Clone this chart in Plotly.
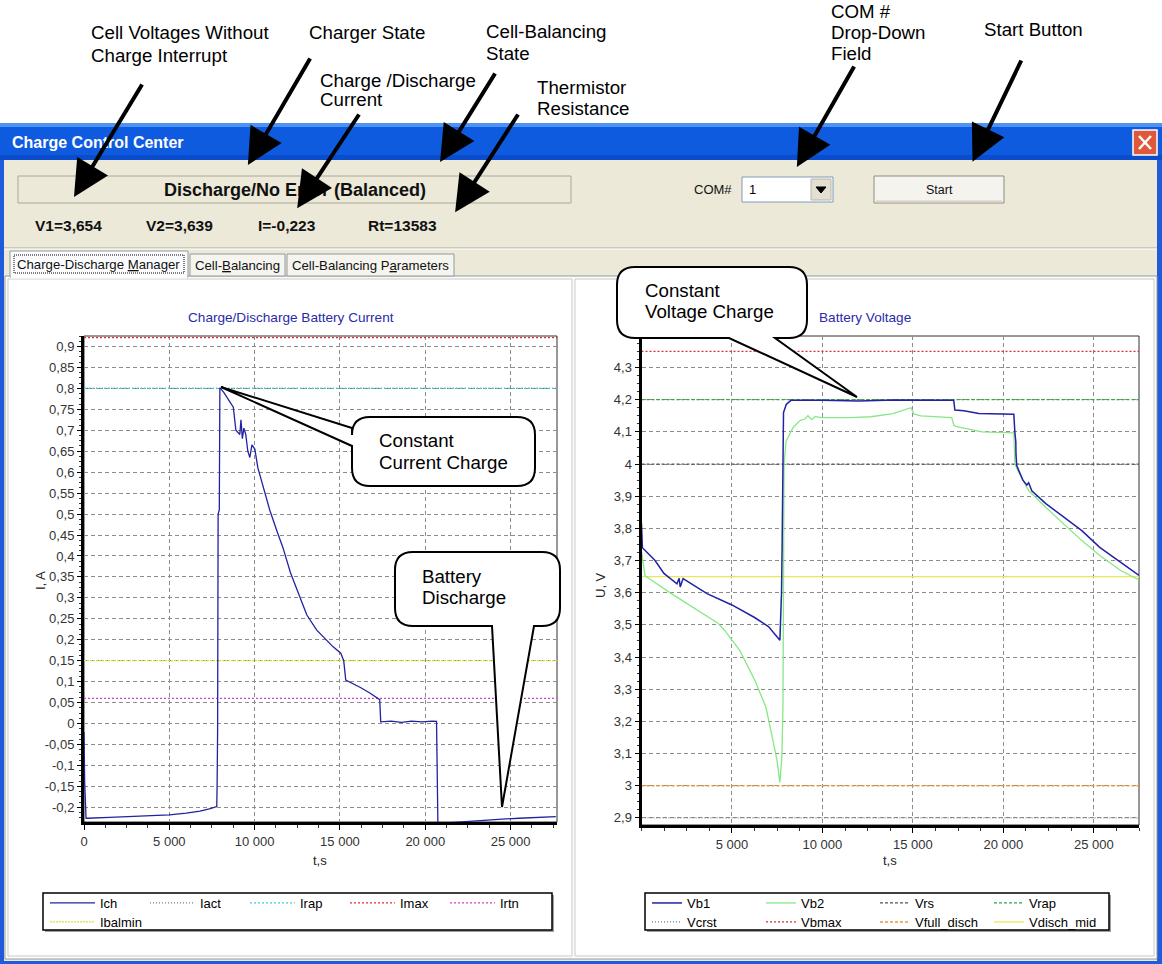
import plotly.graph_objects as go

W, H = 1162, 964
FONT = "Liberation Sans, Arial, sans-serif"

# ---------------- data ----------------
ICH_T = [0, 40, 120, 200, 1500, 3000, 5000, 6000, 6800, 7400, 7780, 7800, 7830, 7860, 7930, 7963,
         8000, 8200, 8400, 8700, 8750, 8900, 9000, 9130, 9200, 9280, 9370, 9480, 9600, 9720, 9840,
         10010, 10190, 10600, 10890, 11300, 11650, 12100, 12650, 13060, 13640, 14170, 14600, 15050,
         15220, 15340, 15700, 16200, 16750, 17210, 17330, 17390, 18000, 18600, 19200, 19800, 20400,
         20660, 20690, 20740, 21000, 22000, 23250, 24500, 25500, 26500, 27650]
ICH_A = [-0.02, -0.14, -0.226, -0.226, -0.224, -0.222, -0.218, -0.214, -0.209, -0.203, -0.198, -0.15,
         -0.02, 0.50, 0.51, 0.80, 0.80, 0.79, 0.777, 0.76, 0.755, 0.70, 0.695, 0.69, 0.725, 0.68,
         0.705, 0.69, 0.65, 0.635, 0.665, 0.655, 0.61, 0.55, 0.509, 0.46, 0.421, 0.36, 0.303, 0.259,
         0.223, 0.20, 0.183, 0.168, 0.15, 0.104, 0.097, 0.086, 0.073, 0.06, 0.057, 0.004, 0.006,
         0.003, 0.006, 0.004, 0.006, 0.005, -0.12, -0.238, -0.238, -0.235, -0.230, -0.228, -0.226,
         -0.224, -0.222]

VB1_T = [0, 50, 750, 1240, 1960, 2080, 2140, 2300, 3620, 5000, 6250, 7020, 7650, 7700, 7740, 7770,
         7800, 7850, 8000, 8260, 10000, 12000, 14000, 16000, 17260, 17320, 17820, 18650, 20580,
         20640, 20690, 20700, 20740, 21080, 21300, 21400, 21575, 22350, 23340, 24340, 25330, 26330,
         27500]
VB1_V = [3.815, 3.74, 3.70, 3.66, 3.628, 3.645, 3.618, 3.644, 3.597, 3.562, 3.523, 3.495, 3.452,
         3.51, 3.60, 3.73, 3.95, 4.16, 4.185, 4.198, 4.198, 4.196, 4.199, 4.197, 4.198, 4.168, 4.166,
         4.157, 4.155, 4.097, 4.07, 4.03, 3.995, 3.95, 3.935, 3.942, 3.917, 3.877, 3.834, 3.793,
         3.741, 3.70, 3.654]

VB2_T = [0, 190, 1630, 2845, 3560, 4230, 4610, 5440, 6270, 6880, 7265, 7490, 7650, 7760, 7820, 7860,
         7880, 7990, 8370, 8760, 9030, 9200, 9400, 9600, 9920, 11520, 12680, 13900, 14890, 15060,
         15440, 17150, 17270, 17430, 18810, 20580, 20640, 20800, 21410, 22350, 23340, 24340, 25330,
         26490, 27500]
VB2_V = [3.73, 3.653, 3.598, 3.554, 3.53, 3.505, 3.482, 3.42, 3.327, 3.244, 3.141, 3.079, 3.01, 3.09,
         3.25, 3.58, 4.0, 4.07, 4.113, 4.135, 4.14, 4.15, 4.138, 4.148, 4.144, 4.144, 4.147, 4.157,
         4.175, 4.156, 4.15, 4.144, 4.12, 4.116, 4.10, 4.097, 4.0, 3.98, 3.917, 3.865, 3.814, 3.762,
         3.716, 3.669, 3.64]

I_REF_NAMES = ["Iact", "Irap", "Imax", "Irtn", "Ibalmin"]
I_REF_VALUES = [0.8, 0.8, 0.921, 0.06, 0.15]
U_REF_NAMES = ["Vrs", "Vrap", "Vcrst", "Vbmax", "Vfull_disch", "Vdisch_mid"]
U_REF_VALUES = [4.0, 4.2, 2.9, 4.35, 3.0, 3.65]

T_RANGE_I = [0, 27720]
T_RANGE_U = [0, 27500]
I_RANGE = [-0.235, 0.925]
U_RANGE = [2.878, 4.398]

I_TICK_VALS = [-0.2, -0.15, -0.1, -0.05, 0, 0.05, 0.1, 0.15, 0.2, 0.25, 0.3, 0.35, 0.4, 0.45, 0.5,
               0.55, 0.6, 0.65, 0.7, 0.75, 0.8, 0.85, 0.9]
I_TICK_TEXT = ["-0,2", "-0,15", "-0,1", "-0,05", "0", "0,05", "0,1", "0,15", "0,2", "0,25", "0,3",
               "0,35", "0,4", "0,45", "0,5", "0,55", "0,6", "0,65", "0,7", "0,75", "0,8", "0,85", "0,9"]
U_TICK_VALS = [2.9, 3.0, 3.1, 3.2, 3.3, 3.4, 3.5, 3.6, 3.7, 3.8, 3.9, 4.0, 4.1, 4.2, 4.3]
U_TICK_TEXT = ["2,9", "3", "3,1", "3,2", "3,3", "3,4", "3,5", "3,6", "3,7", "3,8", "3,9", "4", "4,1",
               "4,2", "4,3"]
T_TICK_VALS_I = [0, 5000, 10000, 15000, 20000, 25000]
T_TICK_TEXT_I = ["0", "5 000", "10 000", "15 000", "20 000", "25 000"]
T_TICK_VALS_U = [5000, 10000, 15000, 20000, 25000]
T_TICK_TEXT_U = ["5 000", "10 000", "15 000", "20 000", "25 000"]

STATUS_TEXT = "Discharge/No Error (Balanced)"
READOUTS = ["V1=3,654", "V2=3,639", "I=-0,223", "Rt=13583"]
COM_PORT = "1"

# ---------------- styles ----------------
NAVY = "#2222A2"
STYLE = {
    "Ich": dict(color=NAVY, w=1.3, dash="solid", legend="legend", rank=1),
    "Iact": dict(color="#5E8C6A", w=1.2, dash="1px,2px", legend="legend", rank=2),
    "Irap": dict(color="#40CCE0", w=1.3, dash="2px,2px", legend="legend", rank=3),
    "Imax": dict(color="#D83030", w=1.3, dash="2px,2px", legend="legend", rank=4),
    "Irtn": dict(color="#D040D0", w=1.3, dash="2px,2px", legend="legend", rank=5),
    "Ibalmin": dict(color="#DCDC40", w=1.3, dash="2px,1px", legend="legend2", rank=6),
    "Vb1": dict(color=NAVY, w=1.5, dash="solid", legend="legend3", rank=1),
    "Vb2": dict(color="#86E886", w=1.3, dash="solid", legend="legend3", rank=2),
    "Vrs": dict(color="#4E5A44", w=1.3, dash="3px,2px", legend="legend3", rank=3),
    "Vrap": dict(color="#36A836", w=1.3, dash="3px,2px", legend="legend3", rank=4),
    "Vcrst": dict(color="#6F7F7F", w=1.2, dash="1px,2px", legend="legend4", rank=5),
    "Vbmax": dict(color="#D83030", w=1.3, dash="2px,2px", legend="legend4", rank=6),
    "Vfull_disch": dict(color="#E39A3B", w=1.4, dash="3px,2px", legend="legend4", rank=7),
    "Vdisch_mid": dict(color="#E8E85A", w=1.3, dash="solid", legend="legend4", rank=8),
}


def X(px):
    return px / W


def Y(py):
    return 1 - py / H


fig = go.Figure()


def add_line(name, xs, ys, xa, ya):
    st = STYLE[name]
    fig.add_trace(go.Scatter(x=xs, y=ys, mode="lines", name=name, xaxis=xa, yaxis=ya,
                             line=dict(color=st["color"], width=st["w"], dash=st["dash"]),
                             legend=st["legend"], legendrank=st["rank"], hoverinfo="skip"))


for nm, val in zip(I_REF_NAMES, I_REF_VALUES):
    add_line(nm, T_RANGE_I, [val, val], "x", "y")
add_line("Ich", ICH_T, ICH_A, "x", "y")

for nm, val in zip(U_REF_NAMES, U_REF_VALUES):
    add_line(nm, T_RANGE_U, [val, val], "x2", "y2")
add_line("Vb2", VB2_T, VB2_V, "x2", "y2")
add_line("Vb1", VB1_T, VB1_V, "x2", "y2")

# ---------------- axes ----------------
TICKFONT = dict(size=13, family=FONT, color="#333333")


def xaxis(dom, rng, tv, tt):
    return dict(domain=dom, range=rng, tickmode="array", tickvals=tv, ticktext=tt,
                showgrid=True, gridcolor="#8C8C8C", gridwidth=1, griddash="4px,3px",
                showline=True, linecolor="black", linewidth=3, ticks="outside", ticklen=5,
                tickcolor="black", tickfont=TICKFONT, zeroline=False, automargin=False,
                fixedrange=True,
                minor=dict(tickmode="linear", tick0=0, dtick=1250, ticks="outside", ticklen=3,
                           tickcolor="#333333", showgrid=False))


def yaxis(dom, rng, tv, tt, mdt):
    return dict(domain=dom, range=rng, tickmode="array", tickvals=tv, ticktext=tt,
                showgrid=True, gridcolor="#8C8C8C", gridwidth=1, griddash="4px,3px",
                showline=True, linecolor="black", linewidth=3, ticks="outside", ticklen=4,
                tickcolor="black", tickfont=TICKFONT, zeroline=False, automargin=False,
                fixedrange=True,
                minor=dict(tickmode="linear", tick0=0, dtick=mdt, ticks="outside", ticklen=2,
                           tickcolor="#333333", showgrid=False))


LPLOT = (84, 336, 557, 822)
RPLOT = (641.5, 336, 1139, 825)

# ---------------- decoration shapes ----------------
shapes = []


def rect(x0, y0, x1, y1, fill=None, line=None, lw=1, layer="below", dash=None):
    d = dict(type="rect", xref="paper", yref="paper", x0=X(x0), x1=X(x1), y0=Y(y0), y1=Y(y1),
             layer=layer, line=dict(width=lw if line else 0, color=line or "rgba(0,0,0,0)"))
    if dash:
        d["line"]["dash"] = dash
    d["fillcolor"] = fill if fill else "rgba(0,0,0,0)"
    shapes.append(d)


def seg(x0, y0, x1, y1, color, lw=1, layer="below"):
    shapes.append(dict(type="line", xref="paper", yref="paper", x0=X(x0), x1=X(x1), y0=Y(y0),
                       y1=Y(y1), layer=layer, line=dict(color=color, width=lw)))


def P(x, y):
    return "%.5f,%.5f" % (X(x), Y(y))


def path(d, fill, line, lw, layer="above"):
    shapes.append(dict(type="path", xref="paper", yref="paper", path=d, fillcolor=fill,
                       layer=layer, line=dict(color=line, width=lw)))


# window frame and title bar
rect(0, 123, 1162, 964, fill="#1F5BDB")
rect(0, 123, 1162, 127, fill="#4C93F5")
rect(0, 127, 1162, 155, fill="#0F5BDF")
rect(0, 155, 1162, 160, fill="#0A4CCB")
rect(4, 160, 1157, 961, fill="#ECE9D8")
seg(4, 248, 1157, 248, "#ACA899")
seg(4, 249, 1157, 249, "#FFFFFF")
# status box
rect(18, 176, 571, 203, line="#ACA899")
# COM drop-down
rect(742, 177, 833, 202, fill="#FFFFFF", line="#7F9DB9")
rect(811, 179, 831, 200, fill="#E3E0D2", line="#B9B6A8")
path("M" + P(816, 187) + " L" + P(826, 187) + " L" + P(821, 193) + " Z", "#000000", "#000000", 1,
     layer="below")
# start button
rect(874, 176, 1004, 203, fill="#F4F3EE", line="#8D8C84")
seg(876, 201.5, 1002, 201.5, "#D6D0C5", 2)
# tab page
rect(5, 276, 1157, 959, fill="#FCFCFE", line="#919B9C")
rect(8, 279, 572, 956, fill="#FFFFFF", line="#C9C9C2")
rect(575, 279, 1154, 956, fill="#FFFFFF", line="#C9C9C2")
rect(190, 254, 285, 276, fill="#F5F4EF", line="#919B9C")
rect(287, 254, 454, 276, fill="#F5F4EF", line="#919B9C")
rect(10, 251, 188, 277, fill="#FCFCFE", line="#919B9C")
rect(11, 275, 187, 278.5, fill="#FCFCFE")
rect(14, 255, 184, 273, line="#000000", dash="1px,1px")
# close button
rect(1133, 130, 1157, 155, fill="#E0583A", line="#FFFFFF", lw=1.5)
seg(1139, 136, 1151, 149, "#FFFFFF", 2.5)
seg(1151, 136, 1139, 149, "#FFFFFF", 2.5)
# plot frames
rect(*LPLOT, line="#303030")
rect(*RPLOT, line="#303030")
# legend boxes
rect(45, 895, 554, 932, fill="#A0A0A0")
rect(43, 893, 552, 930, fill="#FFFFFF", line="#000000", lw=1.5)
rect(647, 895, 1111, 932, fill="#A0A0A0")
rect(645, 893, 1109, 930, fill="#FFFFFF", line="#000000", lw=1.5)


def callout_left(x0, y0, x1, y1, r, ty0, ty1, tip):
    d = ("M" + P(x0 + r, y0) + " L" + P(x1 - r, y0) + " Q" + P(x1, y0) + " " + P(x1, y0 + r) +
         " L" + P(x1, y1 - r) + " Q" + P(x1, y1) + " " + P(x1 - r, y1) + " L" + P(x0 + r, y1) +
         " Q" + P(x0, y1) + " " + P(x0, y1 - r) + " L" + P(x0, ty1) + " L" + P(*tip) +
         " L" + P(x0, ty0) + " L" + P(x0, y0 + r) + " Q" + P(x0, y0) + " " + P(x0 + r, y0) + " Z")
    path(d, "#FFFFFF", "#000000", 2)


def callout_bottom(x0, y0, x1, y1, r, tx0, tx1, tip):
    d = ("M" + P(x0 + r, y0) + " L" + P(x1 - r, y0) + " Q" + P(x1, y0) + " " + P(x1, y0 + r) +
         " L" + P(x1, y1 - r) + " Q" + P(x1, y1) + " " + P(x1 - r, y1) + " L" + P(tx1, y1) +
         " L" + P(*tip) + " L" + P(tx0, y1) + " L" + P(x0 + r, y1) + " Q" + P(x0, y1) + " " +
         P(x0, y1 - r) + " L" + P(x0, y0 + r) + " Q" + P(x0, y0) + " " + P(x0 + r, y0) + " Z")
    path(d, "#FFFFFF", "#000000", 2)


callout_left(352, 417, 535, 486, 18, 428, 446, (221, 387))
callout_bottom(395, 552, 560, 626, 18, 492, 534, (502, 807))
callout_bottom(617, 267, 807, 338, 18, 729, 775, (857, 397))

# ---------------- annotations ----------------
ann = []


def txt(px, py, s, size=13, color="#000000", bold=False, anchor="left", angle=0):
    ann.append(dict(x=X(px), y=Y(py), xref="paper", yref="paper", text=("<b>%s</b>" % s) if bold else s,
                    showarrow=False, xanchor=anchor, yanchor="middle", textangle=angle,
                    font=dict(size=size, color=color, family=FONT)))


txt(10, 142, "Charge Control Center", 16, "#FFFFFF", True)
txt(294.5, 190, STATUS_TEXT, 18, "#111111", True, "center")
for xpos, s in zip([33, 144, 256, 366], READOUTS):
    txt(xpos, 225, s, 15.5, "#111111", True)
txt(692, 190, "COM#", 13, "#111111")
txt(747, 190, COM_PORT, 13, "#000000")
txt(939, 190, "Start", 12.5, "#111111", anchor="center")
txt(98.5, 264, "Charge-Discharge <u>M</u>anager", 13.2, "#111111", anchor="center")
txt(237, 265, "Cell-<u>B</u>alancing", 13.2, "#111111", anchor="center")
txt(371, 265, "Cell-Balancing P<u>a</u>rameters", 13.2, "#111111", anchor="center")
txt(291, 318, "Charge/Discharge Battery Current", 13.6, "#2B2BA8", anchor="center")
txt(865, 318, "Battery Voltage", 13.6, "#2B2BA8", anchor="center")
txt(320, 860, "t,s", 13, "#222222", anchor="center")
txt(890, 860, "t,s", 13, "#222222", anchor="center")
txt(40, 580, "I, A", 13, "#222222", anchor="center", angle=-90)
txt(600, 585, "U, V", 13, "#222222", anchor="center", angle=-90)

CS = 18.7
for xpos, ypos, s in [(377, 441, "Constant"), (377, 462, "Current Charge"),
                      (420, 576, "Battery"), (420, 597, "Discharge"),
                      (643, 290, "Constant"), (643, 312, "Voltage Charge"),
                      (89, 33, "Cell Voltages Without"), (89, 55, "Charge Interrupt"),
                      (307, 33, "Charger State"),
                      (318, 80, "Charge /Discharge"), (318, 100, "Current"),
                      (484, 32, "Cell-Balancing"), (484, 53, "State"),
                      (535, 87, "Thermistor"), (535, 108, "Resistance"),
                      (829, 12, "COM #"), (829, 33, "Drop-Down"), (829, 53, "Field"),
                      (982, 29, "Start Button")]:
    txt(xpos, ypos, s, CS, "#000000")

ARROWS = [((143, 83), (71, 202)), ((311, 57), (245, 170)), ((360, 113), (294, 213)),
          ((496, 72), (437, 167)), ((519, 113), (452, 217)), ((855, 65), (794, 172)),
          ((1022, 59), (970, 167))]
AW, AS = 4, 1.8
for (tx, ty), (hx, hy) in ARROWS:
    dx, dy = hx - tx, hy - ty
    L = (dx * dx + dy * dy) ** 0.5
    back = 0.8 * AW * AS
    hx2, hy2 = hx - dx / L * back, hy - dy / L * back
    ann.append(dict(x=X(hx2), y=Y(hy2), xref="paper", yref="paper", ax=tx - hx2, ay=ty - hy2,
                    axref="pixel", ayref="pixel", showarrow=True, arrowhead=2, arrowsize=AS,
                    arrowwidth=AW, arrowcolor="#000000", text="", standoff=0))

LEGFONT = dict(size=13, family=FONT, color="#000000")


def leg(px, py, iw, ew):
    return dict(orientation="h", x=X(px), y=Y(py), xanchor="left", yanchor="middle",
                xref="paper", yref="paper", bgcolor="rgba(0,0,0,0)", borderwidth=0,
                font=LEGFONT, itemwidth=iw, entrywidth=ew, entrywidthmode="pixels",
                itemclick=False, itemdoubleclick=False, tracegroupgap=0)


fig.update_layout(
    width=W, height=H, autosize=False,
    margin=dict(l=0, r=0, t=0, b=0, pad=0),
    paper_bgcolor="#FFFFFF", plot_bgcolor="rgba(0,0,0,0)",
    font=dict(family=FONT),
    hovermode=False, dragmode=False,
    xaxis=xaxis([X(LPLOT[0]), X(LPLOT[2])], T_RANGE_I, T_TICK_VALS_I, T_TICK_TEXT_I),
    yaxis=yaxis([Y(LPLOT[3]), Y(LPLOT[1])], I_RANGE, I_TICK_VALS, I_TICK_TEXT, 0.0125),
    xaxis2=xaxis([X(RPLOT[0]), X(RPLOT[2])], T_RANGE_U, T_TICK_VALS_U, T_TICK_TEXT_U),
    yaxis2=yaxis([Y(RPLOT[3]), Y(RPLOT[1])], U_RANGE, U_TICK_VALS, U_TICK_TEXT, 0.025),
    legend=leg(45, 903, 45, 40),
    legend2=leg(45, 922, 45, 40),
    legend3=leg(647, 903, 30, 69),
    legend4=leg(647, 922, 30, 69),
    shapes=shapes,
    annotations=ann,
    showlegend=True,
)
fig.layout.xaxis.anchor = "y"
fig.layout.yaxis.anchor = "x"
fig.layout.xaxis2.anchor = "y2"
fig.layout.yaxis2.anchor = "x2"

fig.write_html("out.html", config={"displayModeBar": False, "staticPlot": True},
               post_script="document.body.style.margin='0';document.body.style.overflow='hidden';")
